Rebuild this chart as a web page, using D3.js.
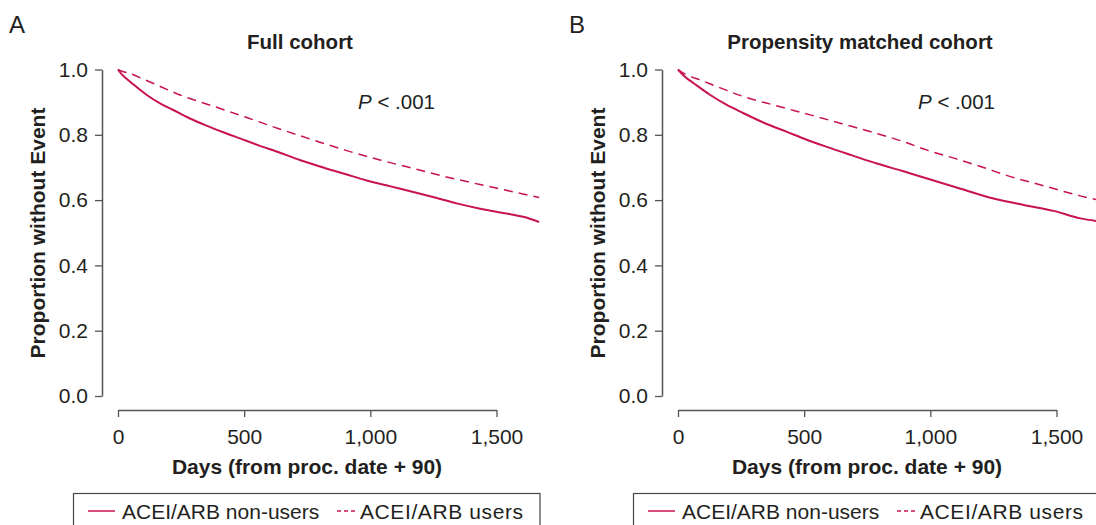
<!DOCTYPE html>
<html><head><meta charset="utf-8">
<script src="https://cdn.jsdelivr.net/npm/d3@7"></script>
<style>
html,body{margin:0;padding:0;background:#fff;}
svg text{font-family:"Liberation Sans",Arial,Helvetica,sans-serif;fill:#231f20;}
</style></head>
<body>
<svg id="chart" width="1096" height="525"></svg>
<script>
// ---- data ----
const panelLetters = ["A", "B"];
const panelTitles = ["Full cohort", "Propensity matched cohort"];
const seriesNames = ["ACEI/ARB non-users", "ACEI/ARB users"];
const pLabel = ".001";
const xTicks = [0, 500, 1000, 1500];
const yTicks = [0, 0.2, 0.4, 0.6, 0.8, 1.0];

const aNonUsersDays = [0, 15, 34, 60, 114, 170, 219, 285, 351, 420, 483, 560, 642, 720, 800, 900, 985, 1080, 1170, 1260, 1342, 1440, 1540, 1610, 1669];
const aNonUsersSurv = [1.0, 0.985, 0.972, 0.955, 0.922, 0.895, 0.876, 0.850, 0.828, 0.807, 0.789, 0.767, 0.745, 0.723, 0.703, 0.680, 0.660, 0.642, 0.625, 0.607, 0.590, 0.573, 0.559, 0.548, 0.533];
const aUsersDays = [0, 21, 41, 120, 246, 380, 510, 640, 774, 900, 1038, 1170, 1302, 1480, 1669];
const aUsersSurv = [1.0, 0.993, 0.989, 0.964, 0.922, 0.887, 0.853, 0.818, 0.784, 0.753, 0.723, 0.697, 0.671, 0.640, 0.608];

const bNonUsersDays = [0, 30, 62, 128, 190, 260, 340, 432, 510, 590, 690, 788, 890, 987, 1120, 1250, 1370, 1488, 1594, 1669];
const bNonUsersSurv = [1.0, 0.976, 0.958, 0.922, 0.893, 0.866, 0.837, 0.809, 0.785, 0.763, 0.737, 0.712, 0.689, 0.666, 0.635, 0.605, 0.585, 0.567, 0.544, 0.535];
const bUsersDays = [0, 30, 88, 170, 260, 390, 524, 650, 788, 890, 987, 1100, 1210, 1317, 1449, 1594, 1669];
const bUsersSurv = [1.0, 0.985, 0.968, 0.943, 0.917, 0.889, 0.861, 0.834, 0.804, 0.780, 0.753, 0.727, 0.700, 0.672, 0.644, 0.613, 0.600];

// ---- style ----
const red = "#c8134f";
const axisColor = "#555";
const fontFam = '"Liberation Sans",Arial,Helvetica,sans-serif';
const fs = 21;

const svg = d3.select("#chart");

const panels = [
  {nu: [aNonUsersDays, aNonUsersSurv], u: [aUsersDays, aUsersSurv]},
  {nu: [bNonUsersDays, bNonUsersSurv], u: [bUsersDays, bUsersSurv]}
];

panels.forEach((p, i) => {
  const ox = i * 560;
  const g = svg.append("g").attr("transform", `translate(${ox},0)`);

  const x = d3.scaleLinear().domain([0, 1500]).range([118, 496.5]);
  const y = d3.scaleLinear().domain([0, 1]).range([396, 69.5]);

  // panel letter
  g.append("text").attr("x", 9).attr("y", 33).attr("font-size", 24).text(panelLetters[i]);
  // title
  g.append("text").attr("x", 300).attr("y", 49).attr("text-anchor", "middle")
    .attr("font-size", 20.5).attr("font-weight", "bold").text(panelTitles[i]);

  // y axis
  const ya = g.append("g").attr("transform", "translate(102,0)")
    .call(d3.axisLeft(y).tickValues(yTicks).tickFormat(d3.format(".1f")).tickSize(7).tickSizeOuter(0).tickPadding(7));
  ya.select(".domain").attr("stroke", axisColor).attr("stroke-width", 1.5);
  ya.selectAll(".tick line").attr("stroke", axisColor).attr("stroke-width", 1.3);
  ya.selectAll(".tick text").attr("font-size", fs).attr("fill", "#231f20").style("font-family", fontFam);

  // x axis
  const xa = g.append("g").attr("transform", "translate(0,410)")
    .call(d3.axisBottom(x).tickValues(xTicks).tickFormat(d3.format(",")).tickSize(7).tickSizeOuter(0).tickPadding(12));
  xa.select(".domain").attr("stroke", axisColor).attr("stroke-width", 1.5);
  xa.selectAll(".tick line").attr("stroke", axisColor).attr("stroke-width", 1.3);
  xa.selectAll(".tick text").attr("font-size", fs).attr("fill", "#231f20").style("font-family", fontFam);

  // axis titles
  g.append("text").attr("x", 307).attr("y", 474).attr("text-anchor", "middle")
    .attr("font-size", fs).attr("font-weight", "bold").text("Days (from proc. date + 90)");
  g.append("text").attr("transform", "translate(45,233) rotate(-90)").attr("text-anchor", "middle")
    .attr("font-size", fs).attr("font-weight", "bold").text("Proportion without Event");

  // P value
  const pt = g.append("text").attr("x", 358).attr("y", 109).attr("font-size", 20.5);
  pt.append("tspan").attr("font-style", "italic").text("P");
  pt.append("tspan").text(" < " + pLabel);

  // curves
  const mk = arr => arr[0].map((d, k) => [d, arr[1][k]]);
  const line = d3.line().x(d => x(d[0])).y(d => y(d[1])).curve(d3.curveMonotoneX);
  g.append("path").attr("d", line(mk(p.nu)))
    .attr("fill", "none").attr("stroke", red).attr("stroke-width", 2);
  g.append("path").attr("d", line(mk(p.u)))
    .attr("fill", "none").attr("stroke", red).attr("stroke-width", 1.5).attr("stroke-dasharray", "9,6");

  // legend
  const lg = g.append("g");
  lg.append("rect").attr("x", 73.5).attr("y", 493.5).attr("width", 466.5).attr("height", 40)
    .attr("fill", "none").attr("stroke", "#444").attr("stroke-width", 1.2);
  lg.append("line").attr("x1", 88).attr("x2", 115).attr("y1", 511).attr("y2", 511)
    .attr("stroke", red).attr("stroke-width", 1.5);
  lg.append("text").attr("x", 122).attr("y", 518.5).attr("font-size", fs).text(seriesNames[0]);
  lg.append("line").attr("x1", 337).attr("x2", 355).attr("y1", 511).attr("y2", 511)
    .attr("stroke", red).attr("stroke-width", 1.3).attr("stroke-dasharray", "4,3");
  lg.append("text").attr("x", 360).attr("y", 518.5).attr("font-size", fs).attr("letter-spacing", 0.6).text(seriesNames[1]);
});
</script>
</body></html>
